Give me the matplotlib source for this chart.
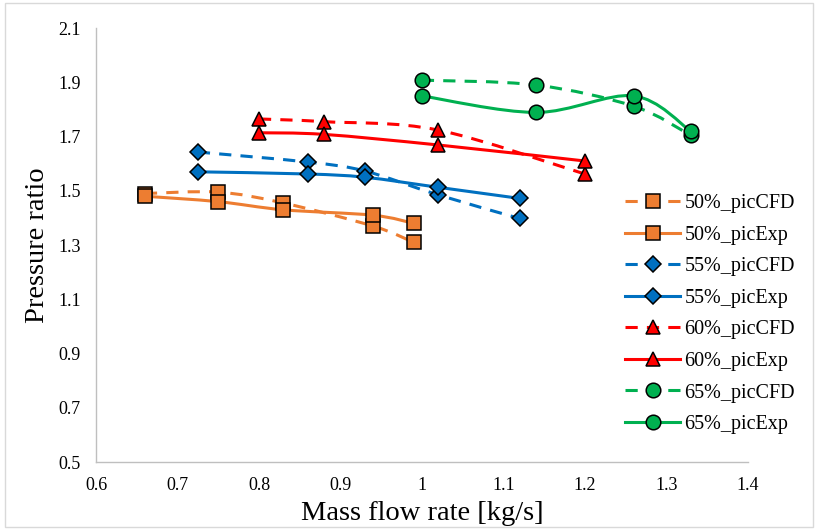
import matplotlib
matplotlib.use('Agg')
import matplotlib.pyplot as plt
from matplotlib.path import Path
from matplotlib.patches import PathPatch, Rectangle
from matplotlib.lines import Line2D

plt.rcParams['font.family'] = ['Liberation Serif', 'DejaVu Serif']

# data
flow_50 = [0.66, 0.75, 0.83, 0.94, 0.99]
cfd_50 = [1.49, 1.495, 1.455, 1.37, 1.31]
exp_50 = [1.48, 1.46, 1.43, 1.41, 1.38]

flow_55 = [0.725, 0.86, 0.93, 1.02, 1.12]
cfd_55 = [1.643, 1.606, 1.573, 1.485, 1.398]
exp_55 = [1.570, 1.562, 1.550, 1.513, 1.472]

flow_60 = [0.80, 0.88, 1.02, 1.20]
cfd_60 = [1.765, 1.755, 1.724, 1.562]
exp_60 = [1.714, 1.708, 1.669, 1.610]

flow_65 = [1.00, 1.14, 1.26, 1.33]
cfd_65 = [1.908, 1.890, 1.812, 1.705]
exp_65 = [1.850, 1.789, 1.850, 1.720]

series = [
    ("50%_picCFD", flow_50, cfd_50, '#ED7D31', 's', 10.5, '--'),
    ("50%_picExp", flow_50, exp_50, '#ED7D31', 's', 10.5, '-'),
    ("55%_picCFD", flow_55, cfd_55, '#0070C0', 'D', 7.8, '--'),
    ("55%_picExp", flow_55, exp_55, '#0070C0', 'D', 7.8, '-'),
    ("60%_picCFD", flow_60, cfd_60, '#FF0000', '^', 10.5, '--'),
    ("60%_picExp", flow_60, exp_60, '#FF0000', '^', 10.5, '-'),
    ("65%_picCFD", flow_65, cfd_65, '#00B050', 'o', 10.5, '--'),
    ("65%_picExp", flow_65, exp_65, '#00B050', 'o', 10.5, '-'),
]


def smooth_path(xs, ys):
    # excel style smoothed line as cubic bezier segments
    pts = list(zip(xs, ys))
    verts = [pts[0]]
    codes = [Path.MOVETO]
    n = len(pts)
    for i in range(n - 1):
        p0 = pts[i - 1] if i > 0 else pts[i]
        p1 = pts[i]
        p2 = pts[i + 1]
        p3 = pts[i + 2] if i + 2 < n else pts[i + 1]
        c1 = (p1[0] + (p2[0] - p0[0]) / 6, p1[1] + (p2[1] - p0[1]) / 6)
        c2 = (p2[0] - (p3[0] - p1[0]) / 6, p2[1] - (p3[1] - p1[1]) / 6)
        verts += [c1, c2, p2]
        codes += [Path.CURVE4] * 3
    return Path(verts, codes)


fig = plt.figure(figsize=(8.18, 5.30), dpi=100)
ax = fig.add_axes([0.1174, 0.1283, 0.7966, 0.8187])

handles = []
for label, xs, ys, color, marker, ms, ls in series:
    patch = PathPatch(smooth_path(xs, ys), facecolor='none', edgecolor=color,
                      lw=2.2, capstyle='butt', zorder=2)
    if ls == '--':
        patch.set_linestyle((0, (4, 3)))
    ax.add_patch(patch)
    ax.plot(xs, ys, linestyle='none', marker=marker, markersize=ms,
            markerfacecolor=color, markeredgecolor='black', markeredgewidth=1.1,
            zorder=3)
    h = Line2D([], [], color=color, lw=2.2,
               linestyle=(0, (4, 3)) if ls == '--' else '-',
               marker=marker, markersize=ms, markerfacecolor=color,
               markeredgecolor='black', markeredgewidth=1.1)
    handles.append(h)

ax.set_xlim(0.6, 1.4)
ax.set_ylim(0.5, 2.1)
ax.set_xticks([0.6, 0.7, 0.8, 0.9, 1.0, 1.1, 1.2, 1.3, 1.4])
ax.set_xticklabels(['0.6', '0.7', '0.8', '0.9', '1', '1.1', '1.2', '1.3', '1.4'])
ax.set_yticks([0.5, 0.7, 0.9, 1.1, 1.3, 1.5, 1.7, 1.9, 2.1])
ax.set_yticklabels(['0.5', '0.7', '0.9', '1.1', '1.3', '1.5', '1.7', '1.9', '2.1'])
ax.tick_params(length=0, labelsize=13, pad=11)
for s in ['top', 'right']:
    ax.spines[s].set_visible(False)
for s in ['left', 'bottom']:
    ax.spines[s].set_color('#bfbfbf')
    ax.spines[s].set_linewidth(1)

ax.set_xlabel('Mass flow rate [kg/s]', fontsize=20.5, labelpad=5)
ax.set_ylabel('Pressure ratio', fontsize=20.5, labelpad=6)

fig.legend(handles=handles, labels=[s[0] for s in series],
           loc='center left', bbox_to_anchor=(0.742, 0.4075), frameon=False,
           fontsize=14.5, handlelength=2.75, handletextpad=0.2,
           labelspacing=0.62)

fig.patches.append(Rectangle((0.006, 0.006), 0.988, 0.988, transform=fig.transFigure,
                             fill=False, edgecolor='#d9d9d9', lw=1))

fig.savefig('out.png', dpi=100)
